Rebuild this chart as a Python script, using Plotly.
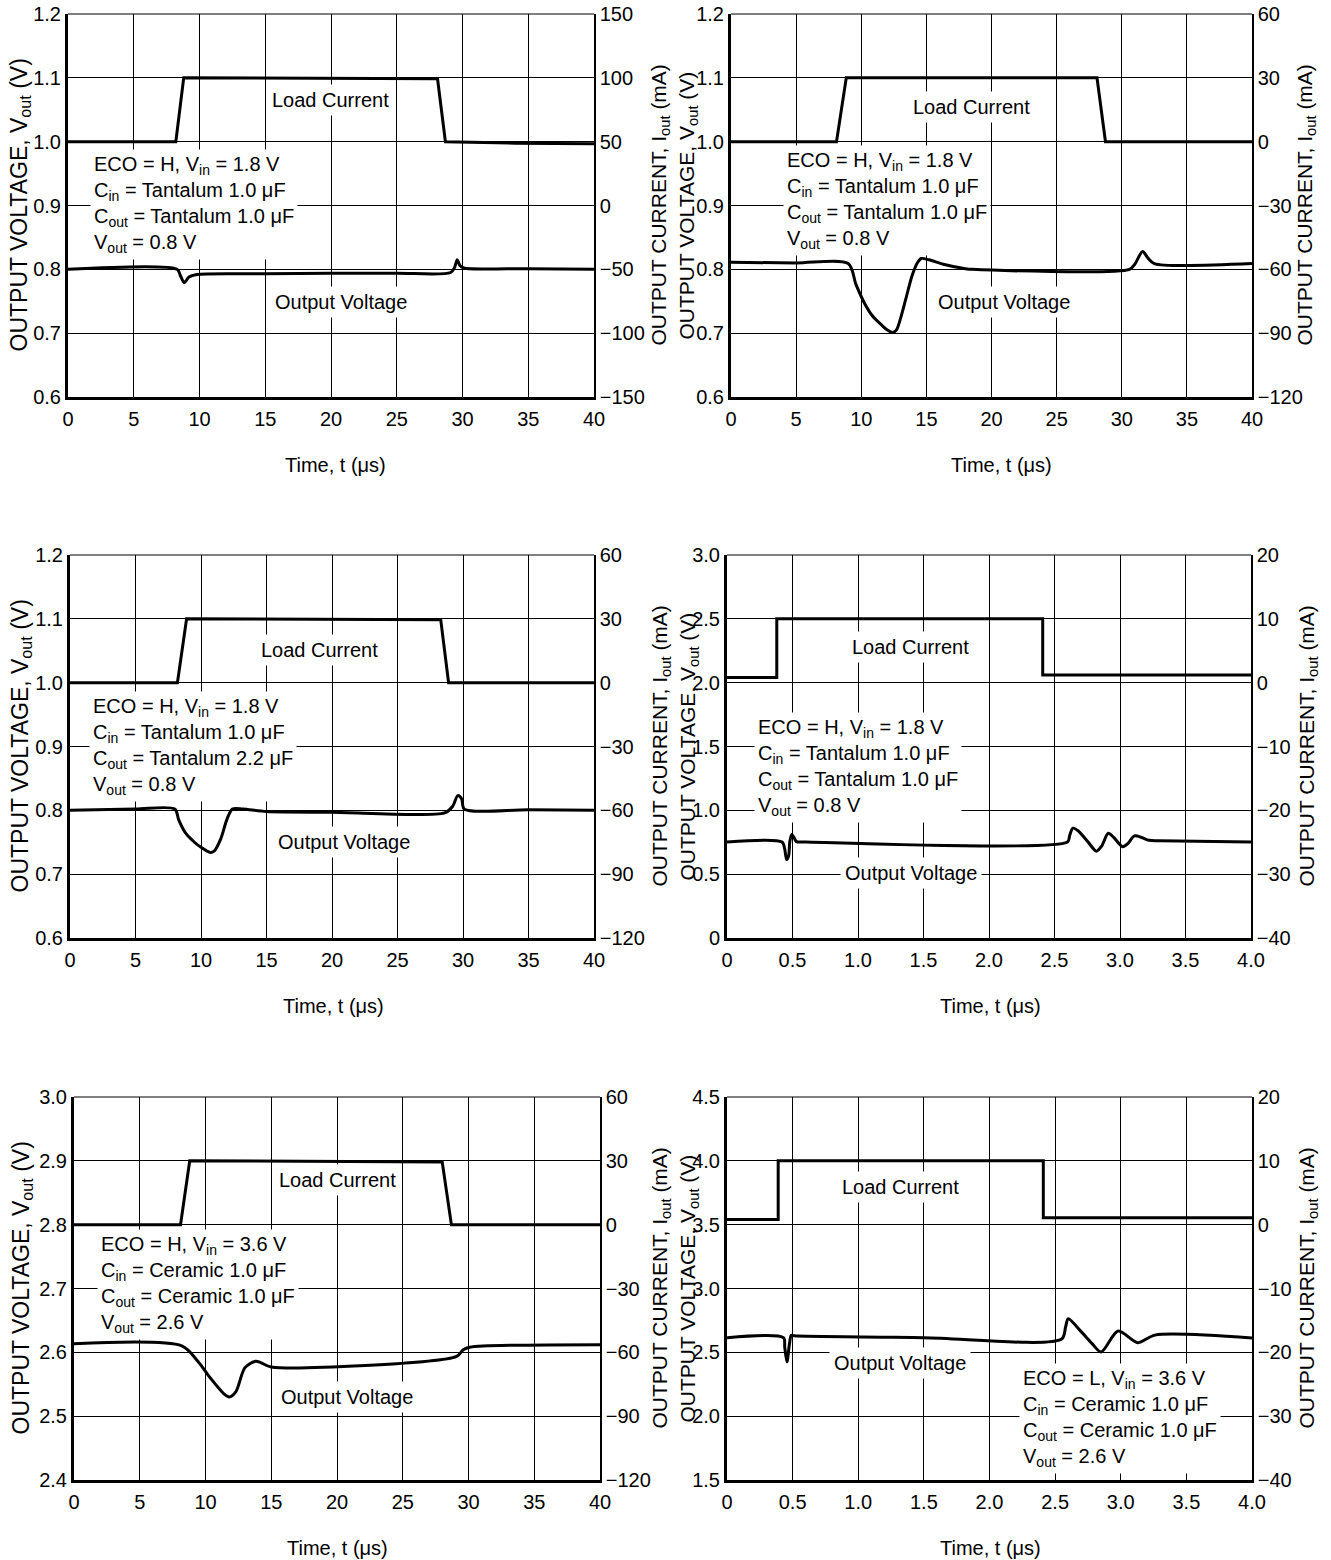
import plotly.graph_objects as go
from plotly.subplots import make_subplots

W, H = 1331, 1560
FONT = "Liberation Sans, Arial, Helvetica, sans-serif"

# ---------------- data ----------------
# panel 1 : ECO = H, Vin 1.8 V, Cin/Cout tantalum 1.0 uF
p1_t_i = [0, 8.2, 8.8, 28.1, 28.7, 34, 40]
p1_i = [50, 50, 100, 99.2, 50, 48.8, 48.3]
p1_t_v = [0, 8.3, 8.55, 8.85, 9.2, 9.8, 15, 20, 25, 29.1, 29.4, 29.6, 29.8, 30.1, 35, 40]
p1_v = [0.800, 0.800, 0.790, 0.779, 0.788, 0.792, 0.793, 0.794, 0.794, 0.795, 0.803, 0.815, 0.806, 0.802, 0.801, 0.800]

# panel 2 : ECO = H, Vin 1.8 V, Cout tantalum 1.0 uF
p2_t_i = [0, 8.1, 8.85, 28.1, 28.75, 40]
p2_i = [0, 0, 30, 30, 0, 0]
p2_t_v = [0, 5, 9.0, 9.6, 10.3, 10.9, 11.6, 12.0, 12.4, 12.7, 13.0, 13.4, 13.9, 14.3, 14.6, 15.2, 16.3, 18.0, 18.5,
          30.6, 31.0, 31.6, 32.0, 32.5, 40]
p2_v = [0.811, 0.810, 0.809, 0.776, 0.745, 0.726, 0.712, 0.705, 0.701, 0.705, 0.722, 0.752, 0.790, 0.810, 0.817,
        0.815, 0.808, 0.801, 0.800, 0.800, 0.808, 0.828, 0.818, 0.809, 0.809]

# panel 3 : ECO = H, Vin 1.8 V, Cout tantalum 2.2 uF
p3_t_i = [0, 8.2, 8.9, 28.3, 28.9, 40]
p3_i = [0, 0, 30, 29.6, 0, 0]
p3_t_v = [0, 5, 8.0, 8.3, 8.8, 9.5, 10.0, 10.7, 11.0, 11.5, 12.0, 12.4, 13.2, 15, 20, 28.6,
          29.2, 29.6, 29.9, 30.1, 35, 40]
p3_v = [0.800, 0.802, 0.802, 0.785, 0.765, 0.750, 0.742, 0.734, 0.736, 0.755, 0.787, 0.802, 0.802, 0.798, 0.797, 0.796,
        0.806, 0.823, 0.818, 0.802, 0.801, 0.800]

# panel 4 : ECO = H, Vin 1.8 V, 1.0 uF tantalum, fast load step
p4_t_i = [0, 0.38, 0.38, 2.41, 2.41, 4.0]
p4_i = [0.8, 0.8, 10, 10, 1.2, 1.2]
p4_t_v = [0, 0.42, 0.44, 0.455, 0.47, 0.48, 0.495, 0.51, 0.53, 0.6, 2.6, 2.615, 2.64, 2.68, 2.75, 2.82,
          2.86, 2.91, 2.95, 3.02, 3.06, 3.11, 3.17, 3.22, 3.3, 4.0]
p4_v = [0.752, 0.752, 0.70, 0.615, 0.64, 0.76, 0.81, 0.79, 0.755, 0.752, 0.752, 0.80, 0.86, 0.84, 0.76, 0.68,
        0.72, 0.82, 0.79, 0.715, 0.74, 0.80, 0.785, 0.765, 0.762, 0.752]

# panel 5 : ECO = H, Vin 3.6 V, ceramic 1.0 uF
p5_t_i = [0, 8.1, 8.8, 28.0, 28.7, 40]
p5_i = [0, 0, 30, 29.5, 0, 0]
p5_t_v = [0, 8.2, 9.4, 10.4, 11.4, 11.8, 12.3, 13.0, 13.8, 14.2, 15.0, 29.1, 29.6, 30.1, 40]
p5_v = [2.6135, 2.610, 2.5865, 2.559, 2.535, 2.530, 2.538, 2.576, 2.586, 2.584, 2.577, 2.5935, 2.604, 2.608, 2.612]

# panel 6 : ECO = L, Vin 3.6 V, ceramic 1.0 uF
p6_t_i = [0, 0.39, 0.39, 2.41, 2.41, 4.0]
p6_i = [0.8, 0.8, 10, 10, 1.1, 1.1]
p6_t_v = [0, 0.43, 0.44, 0.457, 0.475, 0.49, 0.51, 1.5, 2.55, 2.58, 2.60, 2.70, 2.78, 2.85, 2.98, 3.13, 3.26, 4.0]
p6_v = [2.615, 2.615, 2.54, 2.425, 2.56, 2.633, 2.63, 2.615, 2.604, 2.70, 2.763, 2.66, 2.57, 2.503, 2.667, 2.576, 2.635, 2.612]

# tick labels
t40_vals = [0, 5, 10, 15, 20, 25, 30, 35, 40]
t40_text = ["0", "5", "10", "15", "20", "25", "30", "35", "40"]
t4_vals = [0, 0.5, 1.0, 1.5, 2.0, 2.5, 3.0, 3.5, 4.0]
t4_text = ["0", "0.5", "1.0", "1.5", "2.0", "2.5", "3.0", "3.5", "4.0"]
v06_vals = [0.6, 0.7, 0.8, 0.9, 1.0, 1.1, 1.2]
v06_text = ["0.6", "0.7", "0.8", "0.9", "1.0", "1.1", "1.2"]
v0_vals = [0, 0.5, 1.0, 1.5, 2.0, 2.5, 3.0]
v0_text = ["0", "0.5", "1.0", "1.5", "2.0", "2.5", "3.0"]
v24_vals = [2.4, 2.5, 2.6, 2.7, 2.8, 2.9, 3.0]
v24_text = ["2.4", "2.5", "2.6", "2.7", "2.8", "2.9", "3.0"]
v15_vals = [1.5, 2.0, 2.5, 3.0, 3.5, 4.0, 4.5]
v15_text = ["1.5", "2.0", "2.5", "3.0", "3.5", "4.0", "4.5"]
i150_vals = [-150, -100, -50, 0, 50, 100, 150]
i120_vals = [-120, -90, -60, -30, 0, 30, 60]
i40_vals = [-40, -30, -20, -10, 0, 10, 20]

cond_tant_10 = "ECO = H, V<sub>in</sub> = 1.8 V<br>C<sub>in</sub> = Tantalum 1.0 μF<br>C<sub>out</sub> = Tantalum 1.0 μF<br>V<sub>out</sub> = 0.8 V"
cond_tant_22 = "ECO = H, V<sub>in</sub> = 1.8 V<br>C<sub>in</sub> = Tantalum 1.0 μF<br>C<sub>out</sub> = Tantalum 2.2 μF<br>V<sub>out</sub> = 0.8 V"
cond_cer_h = "ECO = H, V<sub>in</sub> = 3.6 V<br>C<sub>in</sub> = Ceramic 1.0 μF<br>C<sub>out</sub> = Ceramic 1.0 μF<br>V<sub>out</sub> = 2.6 V"
cond_cer_l = "ECO = L, V<sub>in</sub> = 3.6 V<br>C<sub>in</sub> = Ceramic 1.0 μF<br>C<sub>out</sub> = Ceramic 1.0 μF<br>V<sub>out</sub> = 2.6 V"

# ---------------- panel setup (pixel boxes are page positions, layout only) ----------------
panels = [
    dict(row=1, col=1, box=(68, 594, 14, 397), t_i=p1_t_i, i=p1_i, t_v=p1_t_v, v=p1_v,
         xr=[0, 40], xt=(t40_vals, t40_text), vr=[0.6, 1.2], vt=(v06_vals, v06_text), ir=[-150, 150], it=i150_vals,
         cond=cond_tant_10, cond_xy=(90, 205), lc=(330, 100), ov=(341, 302), ly=20, ry=660, tx=335),
    dict(row=1, col=2, box=(731, 1252, 14, 397), t_i=p2_t_i, i=p2_i, t_v=p2_t_v, v=p2_v,
         xr=[0, 40], xt=(t40_vals, t40_text), vr=[0.6, 1.2], vt=(v06_vals, v06_text), ir=[-120, 60], it=i120_vals,
         cond=cond_tant_10, cond_xy=(783, 201), lc=(971, 107), ov=(1004, 302), ly=688, ry=1306, tx=1001),
    dict(row=2, col=1, box=(70, 594, 555, 938), t_i=p3_t_i, i=p3_i, t_v=p3_t_v, v=p3_v,
         xr=[0, 40], xt=(t40_vals, t40_text), vr=[0.6, 1.2], vt=(v06_vals, v06_text), ir=[-120, 60], it=i120_vals,
         cond=cond_tant_22, cond_xy=(89, 746), lc=(319, 650), ov=(344, 842), ly=21, ry=660, tx=333),
    dict(row=2, col=2, box=(727, 1251, 555, 938), t_i=p4_t_i, i=p4_i, t_v=p4_t_v, v=p4_v,
         xr=[0, 4], xt=(t4_vals, t4_text), vr=[0, 3.0], vt=(v0_vals, v0_text), ir=[-40, 20], it=i40_vals,
         cond=cond_tant_10, cond_xy=(754, 767), lc=(911, 647), ov=(911, 873), ly=688, ry=1307, tx=990),
    dict(row=3, col=1, box=(74, 600, 1097, 1480), t_i=p5_t_i, i=p5_i, t_v=p5_t_v, v=p5_v,
         xr=[0, 40], xt=(t40_vals, t40_text), vr=[2.4, 3.0], vt=(v24_vals, v24_text), ir=[-120, 60], it=i120_vals,
         cond=cond_cer_h, cond_xy=(97, 1284), lc=(337, 1180), ov=(347, 1397), ly=22, ry=660, tx=337),
    dict(row=3, col=2, box=(727, 1252, 1097, 1480), t_i=p6_t_i, i=p6_i, t_v=p6_t_v, v=p6_v,
         xr=[0, 4], xt=(t4_vals, t4_text), vr=[1.5, 4.5], vt=(v15_vals, v15_text), ir=[-40, 20], it=i40_vals,
         cond=cond_cer_l, cond_xy=(1019, 1418), lc=(900, 1187), ov=(900, 1363), ly=688, ry=1307, tx=990),
]


def fx(px):
    return px / W


def fy(px):
    return 1 - px / H


fig = make_subplots(rows=3, cols=2, specs=[[{"secondary_y": True}, {"secondary_y": True}]] * 3)

annotations = []
shapes = []
txt = dict(family=FONT, size=20, color="black")
for k, p in enumerate(panels):
    r, c = p["row"], p["col"]
    x0, x1, y0, y1 = p["box"]

    fig.add_trace(go.Scatter(x=p["t_i"], y=p["i"], mode="lines", line=dict(color="black", width=3),
                             showlegend=False, hoverinfo="skip", cliponaxis=False),
                  row=r, col=c, secondary_y=True)
    fig.add_trace(go.Scatter(x=p["t_v"], y=p["v"], mode="lines",
                             line=dict(color="black", width=3, shape="spline", smoothing=0.8),
                             showlegend=False, hoverinfo="skip", cliponaxis=False),
                  row=r, col=c, secondary_y=False)

    fig.update_xaxes(domain=[fx(x0), fx(x1)], range=p["xr"], tickvals=p["xt"][0], ticktext=p["xt"][1],
                     showgrid=True, gridcolor="black", gridwidth=1, showline=True, linecolor="black",
                     linewidth=3, zeroline=False, ticks="", ticklabelstandoff=2, tickfont=txt,
                     automargin=False, row=r, col=c)
    fig.update_yaxes(domain=[fy(y1), fy(y0)], range=p["vr"], tickvals=p["vt"][0], ticktext=p["vt"][1],
                     showgrid=True, gridcolor="black", gridwidth=1, showline=True, linecolor="black",
                     linewidth=3, zeroline=False, ticks="", tickfont=txt, ticklabelstandoff=0,
                     automargin=False, row=r, col=c, secondary_y=False)
    fig.update_yaxes(range=p["ir"], tickvals=p["it"], showgrid=False, showline=True, linecolor="black",
                     linewidth=1.5, zeroline=False, ticks="", tickfont=txt, ticklabelstandoff=0,
                     automargin=False, row=r, col=c, secondary_y=True)

    # thin frame line along the top of the plot area
    xname = "x" if k == 0 else f"x{k + 1}"
    yname = f"y{2 * k + 1}" if k else "y"
    shapes.append(dict(type="line", xref=f"{xname} domain", yref=f"{yname} domain",
                       x0=0, x1=1, y0=1, y1=1, line=dict(color="black", width=1)))

    left_size = 23 if c == 1 else 21
    annotations += [
        dict(x=fx(p["lc"][0]), y=fy(p["lc"][1]), text="Load Current", bgcolor="white", borderpad=4),
        dict(x=fx(p["ov"][0]), y=fy(p["ov"][1]), text="Output Voltage", bgcolor="white", borderpad=4),
        dict(x=fx(p["cond_xy"][0]), y=fy(p["cond_xy"][1]), text=p["cond"], bgcolor="white",
             borderpad=3, xanchor="left", align="left"),
        dict(x=fx(p["ly"]), y=fy((y0 + y1) / 2), text="OUTPUT VOLTAGE, V<sub>out</sub> (V)", textangle=-90,
             font=dict(txt, size=left_size)),
        dict(x=fx(p["ry"]), y=fy((y0 + y1) / 2), text="OUTPUT CURRENT, I<sub>out</sub> (mA)", textangle=-90,
             font=dict(txt, size=21)),
        dict(x=fx(p["tx"]), y=fy(y1 + 68), text="Time, t (μs)"),
    ]

for a in annotations:
    a.update(xref="paper", yref="paper", showarrow=False)
    a.setdefault("font", txt)
    a.setdefault("xanchor", "center")
    a.setdefault("yanchor", "middle")

fig.update_layout(template="none", width=W, height=H, margin=dict(l=0, r=0, t=0, b=0),
                  paper_bgcolor="white", plot_bgcolor="white",
                  font=txt, annotations=annotations, shapes=shapes, showlegend=False)

# drop the browser's default 8 px body margin so the figure fills the window exactly
fig.write_html("out.html", config={"displayModeBar": False},
               post_script="document.body.style.margin = '0';")
